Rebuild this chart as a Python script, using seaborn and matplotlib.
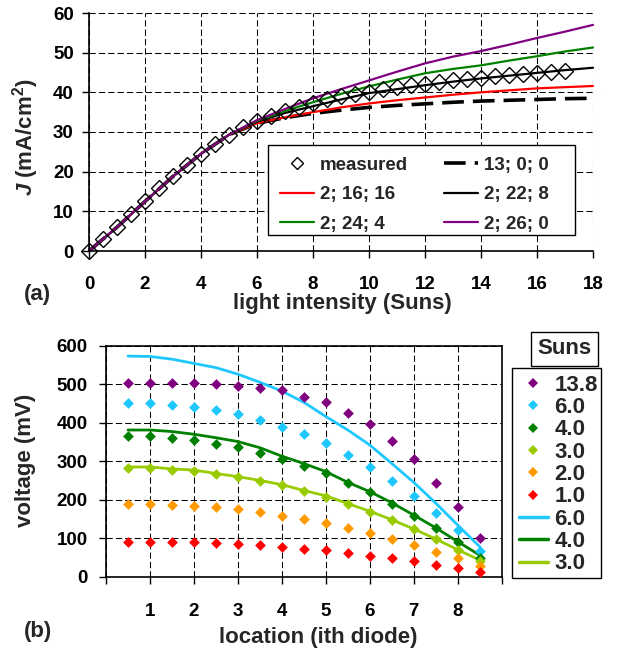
import numpy as np
import pandas as pd
import matplotlib
matplotlib.use("Agg")
import matplotlib.pyplot as plt
import seaborn as sns
from matplotlib.lines import Line2D
from matplotlib.patches import Rectangle

# ---------------- data: panel (a) ----------------
meas_x = [0, 0.5, 1, 1.5, 2, 2.5, 3, 3.5, 4, 4.5, 5, 5.5, 6, 6.5, 7, 7.5, 8, 8.5,
          9, 9.5, 10, 10.5, 11, 11.5, 12, 12.5, 13, 13.5, 14, 14.5, 15, 15.5, 16, 16.5, 17]
meas_j = [0, 3, 6, 9.3, 12.5, 15.8, 18.8, 21.8, 24.5, 27, 29.3, 31.2, 32.8, 34, 35.3, 36.3,
          37.4, 38.2, 39, 39.6, 40.2, 40.8, 41.3, 41.8, 42.2, 42.6, 43, 43.4, 43.7, 44,
          44.3, 44.6, 45, 45.2, 45.5]
model_x = [0, 1, 2, 3, 4, 5, 6, 7, 8, 9, 10, 11, 12, 13, 14, 15, 16, 17, 18]
j_13_0_0 = [0, 6, 12.5, 18.8, 24.5, 29.3, 32.2, 33.6, 34.7, 35.5, 36.2, 36.7, 37.1, 37.5, 37.8, 38.0, 38.2, 38.4, 38.5]
j_2_16_16 = [0, 6, 12.5, 18.8, 24.5, 29.3, 32.2, 33.7, 35.0, 36.2, 37.2, 38.0, 38.7, 39.4, 40.0, 40.5, 41.0, 41.3, 41.6]
j_2_22_8 = [0, 6, 12.5, 18.8, 24.5, 29.3, 32.6, 34.8, 36.5, 38.2, 39.8, 40.8, 41.8, 42.7, 43.5, 44.2, 44.9, 45.6, 46.2]
j_2_24_4 = [0, 6, 12.5, 18.8, 24.5, 29.3, 32.8, 35.3, 37.5, 39.6, 41.5, 43.2, 44.8, 45.9, 46.8, 48.0, 49.1, 50.3, 51.3]
j_2_26_0 = [0, 6, 12.5, 18.8, 24.5, 29.3, 33.0, 35.8, 38.5, 40.8, 43.0, 45.2, 47.3, 49.0, 50.4, 52.0, 53.7, 55.3, 57.0]

# ---------------- data: panel (b) ----------------
location = [0.5, 1, 1.5, 2, 2.5, 3, 3.5, 4, 4.5, 5, 5.5, 6, 6.5, 7, 7.5, 8, 8.5]
v_13_8 = [502, 502, 502, 502, 500, 496, 490, 484, 467, 455, 426, 397, 353, 306, 244, 182, 101]
v_6_0 = [452, 452, 446, 441, 433, 423, 407, 390, 370, 346, 316, 286, 249, 210, 165, 121, 67]
v_4_0 = [365, 365, 360, 355, 345, 336, 322, 306, 288, 270, 243, 219, 190, 158, 126, 91, 49]
v_3_0 = [283, 283, 277, 275, 266, 258, 249, 238, 223, 208, 188, 169, 147, 123, 97, 69, 42]
v_2_0 = [190, 190, 186, 184, 180, 175, 168, 158, 149, 139, 126, 114, 98, 82, 65, 48, 29]
v_1_0 = [91, 91, 91, 90, 87, 85, 82, 78, 72, 69, 61, 54, 48, 41, 30, 23, 11]
sim_6_0 = [573, 572, 565, 554, 543, 526, 505, 482, 453, 416, 381, 342, 294, 245, 191, 134, 78]
sim_4_0 = [381, 381, 377, 370, 361, 351, 335, 313, 294, 273, 245, 221, 192, 160, 127, 91, 56]
sim_3_0 = [285, 285, 280, 277, 268, 260, 250, 239, 224, 210, 190, 170, 148, 124, 98, 70, 43]

a_xticks = [0, 2, 4, 6, 8, 10, 12, 14, 16, 18]
a_yticks = [0, 10, 20, 30, 40, 50, 60]
b_xticks = [0, 1, 2, 3, 4, 5, 6, 7, 8, 9]
b_xticklabels = ["", "1", "2", "3", "4", "5", "6", "7", "8", ""]
b_yticks = [0, 100, 200, 300, 400, 500, 600]

# ---------------- style ----------------
sns.set_theme(style="white")
plt.rcParams['font.family'] = ['Liberation Sans', 'DejaVu Sans']
plt.rcParams['font.weight'] = 'bold'
plt.rcParams['mathtext.fontset'] = 'custom'
plt.rcParams['mathtext.rm'] = 'Liberation Sans:bold'
plt.rcParams['mathtext.bf'] = 'Liberation Sans:bold'
plt.rcParams['mathtext.it'] = 'Liberation Sans:italic:bold'
plt.rcParams['mathtext.bfit'] = 'Liberation Sans:italic:bold'

W, H = 618, 653
fig = plt.figure(figsize=(W / 100, H / 100), dpi=100)
fig.patch.set_facecolor('white')

def fx(px):
    return px / W

def fy(py):
    return 1 - py / H

def box(ax, x0, y0, x1, y1):
    r = Rectangle((fx(x0), fy(y1)), fx(x1) - fx(x0), fy(y0) - fy(y1),
                  transform=fig.transFigure, facecolor='white', edgecolor='black',
                  linewidth=1.0, zorder=4.9, clip_on=False)
    ax.add_artist(r)

grid_kw = dict(color='black', linestyle=(0, (6, 3)), linewidth=0.75)
TICK_FS = 13.5

# ================= panel (a) =================
ax1 = fig.add_axes([fx(89), fy(251), fx(593) - fx(89), fy(13) - fy(251)])
ax1.set_facecolor('white')
ax1.set_axisbelow(True)

lw = 1.6
sns.lineplot(x=model_x, y=j_13_0_0, ax=ax1, color='black', linewidth=2.6,
             dashes=False, linestyle=(0, (6, 2.5)), clip_on=False)
sns.lineplot(x=model_x, y=j_2_16_16, ax=ax1, color='#FF0000', linewidth=lw, clip_on=False)
sns.lineplot(x=model_x, y=j_2_22_8, ax=ax1, color='black', linewidth=lw, clip_on=False)
sns.lineplot(x=model_x, y=j_2_24_4, ax=ax1, color='#008000', linewidth=lw, clip_on=False)
sns.lineplot(x=model_x, y=j_2_26_0, ax=ax1, color='#800080', linewidth=lw, clip_on=False)
sns.lineplot(x=meas_x, y=meas_j, ax=ax1, linestyle='none', marker='D', markersize=8,
             markerfacecolor='none', markeredgecolor='black', markeredgewidth=1.0,
             color='black', clip_on=False)

ax1.set_xlim(0, 18)
ax1.set_ylim(0, 60)
ax1.set_xticks(a_xticks)
ax1.set_yticks(a_yticks)
ax1.grid(True, **grid_kw)
for s in ['top', 'right']:
    ax1.spines[s].set_visible(False)
for s in ['left', 'bottom']:
    ax1.spines[s].set_color('black')
    ax1.spines[s].set_linewidth(1.2)
ax1.tick_params(axis='both', direction='out', length=5, width=1, color='black',
                labelsize=TICK_FS, labelcolor='black', bottom=True, left=True)
ax1.tick_params(axis='x', pad=13)
ax1.tick_params(axis='y', pad=6)
ax1.set_xlabel('')
ax1.set_ylabel('')

h_a = [
    Line2D([], [], linestyle='none', marker='D', markersize=6.5, markerfacecolor='none',
           markeredgecolor='black', markeredgewidth=1.0),
    Line2D([], [], color='#FF0000', linewidth=lw),
    Line2D([], [], color='#008000', linewidth=lw),
    Line2D([], [], color='black', linewidth=2.6, linestyle=(0, (6, 2.5))),
    Line2D([], [], color='black', linewidth=lw),
    Line2D([], [], color='#800080', linewidth=lw),
]
l_a = ['measured', '2; 16; 16', '2; 24; 4', '13; 0; 0', '2; 22; 8', '2; 26; 0']
box(ax1, 268, 145, 575, 235)
leg_a = ax1.legend(h_a, l_a, ncol=2, loc='upper left',
                   bbox_to_anchor=(fx(268), fy(145)), bbox_transform=fig.transFigure,
                   frameon=False,
                   prop={'size': 13.5, 'weight': 'bold'}, handlelength=1.85,
                   handletextpad=0.3, columnspacing=1.9, labelspacing=0.66,
                   borderpad=0.62, borderaxespad=0)
leg_a.set_zorder(5)

fig.text(fx(26), fy(137), r'$\mathbfit{J}$ (mA/cm$^{\mathbf{2}}$)', rotation=90,
         ha='center', va='center', fontsize=16, fontweight='bold')
fig.text(fx(342), fy(303), 'light intensity (Suns)', ha='center', va='center',
         fontsize=16, fontweight='bold')
fig.text(fx(37), fy(295), '(a)', ha='center', va='center', fontsize=16, fontweight='bold')

# ================= panel (b) =================
ax2 = fig.add_axes([fx(106), fy(576.7), fx(501.7) - fx(106), fy(345.7) - fy(576.7)])
ax2.set_facecolor('white')
ax2.set_axisbelow(True)

series_pts = [
    ('13.8', v_13_8, '#800080'),
    ('6.0', v_6_0, '#1EC8FF'),
    ('4.0', v_4_0, '#008000'),
    ('3.0', v_3_0, '#99CC00'),
    ('2.0', v_2_0, '#FF9900'),
    ('1.0', v_1_0, '#FF0000'),
]
series_lines = [
    ('6.0', sim_6_0, '#1EC8FF'),
    ('4.0', sim_4_0, '#008000'),
    ('3.0', sim_3_0, '#99CC00'),
]
for lab, vals, col in series_lines:
    sns.lineplot(x=location, y=vals, ax=ax2, color=col, linewidth=2.0)
for lab, vals, col in series_pts:
    sns.scatterplot(x=location, y=vals, ax=ax2, color=col, marker='D', s=30,
                    linewidth=0, zorder=3)

ax2.set_xlim(0, 9)
ax2.set_ylim(0, 600)
ax2.set_xticks(b_xticks)
ax2.set_xticklabels(b_xticklabels)
ax2.set_yticks(b_yticks)
ax2.grid(True, **grid_kw)
for s in ['top', 'right', 'left', 'bottom']:
    ax2.spines[s].set_visible(True)
    ax2.spines[s].set_color('black')
    ax2.spines[s].set_linewidth(1.2)
ax2.tick_params(axis='both', direction='out', length=5, width=1, color='black',
                labelsize=TICK_FS, labelcolor='black', bottom=True, left=True)
ax2.tick_params(axis='x', pad=14)
ax2.tick_params(axis='y', pad=8)
ax2.set_xlabel('')
ax2.set_ylabel('')

h_b = [Line2D([], [], linestyle='none', marker='D', markersize=5.5, markerfacecolor=c,
              markeredgewidth=0) for _, _, c in series_pts]
h_b += [Line2D([], [], color=c, linewidth=2.5) for _, _, c in series_lines]
l_b = [l for l, _, _ in series_pts] + [l for l, _, _ in series_lines]
box(ax2, 512, 368, 601, 578)
leg_b = ax2.legend(h_b, l_b, loc='upper left',
                   bbox_to_anchor=(fx(512), fy(368)), bbox_transform=fig.transFigure,
                   frameon=False,
                   prop={'size': 16, 'weight': 'bold'}, handlelength=1.3,
                   handletextpad=0.3, labelspacing=0.06, borderpad=0.3,
                   borderaxespad=0)
leg_b.set_zorder(5)

fig.text(fx(564.5), fy(349), 'Suns', ha='center', va='center', fontsize=16,
         fontweight='bold',
         bbox=dict(boxstyle='square,pad=0.28', facecolor='white', edgecolor='black',
                   linewidth=1.0))

fig.text(fx(25), fy(460), 'voltage (mV)', rotation=90, ha='center', va='center',
         fontsize=16, fontweight='bold')
fig.text(fx(318), fy(637), 'location (ith diode)', ha='center', va='center',
         fontsize=16, fontweight='bold')
fig.text(fx(38), fy(631), '(b)', ha='center', va='center', fontsize=16, fontweight='bold')

fig.savefig('out.png', dpi=100, facecolor='white')
